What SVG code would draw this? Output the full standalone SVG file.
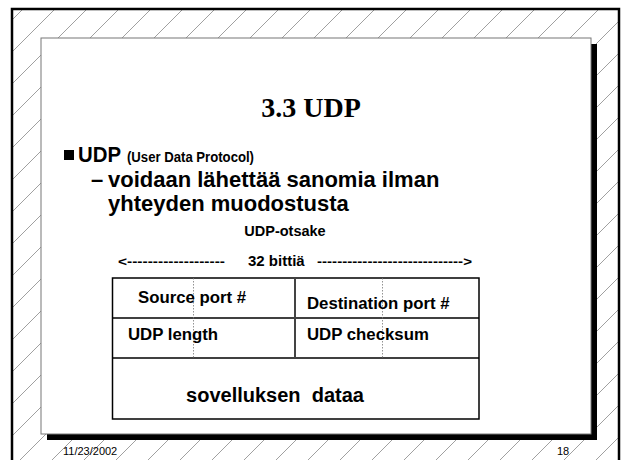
<svg xmlns="http://www.w3.org/2000/svg" width="624" height="460" viewBox="0 0 624 460">
<defs>
<pattern id="hatch" x="0" y="0" width="32" height="32" patternUnits="userSpaceOnUse">
<line x1="0" y1="32" x2="32" y2="0" stroke="#888" stroke-width="0.8"/>
</pattern>
<style>
.s{font-family:"Liberation Sans",Arial,sans-serif;font-weight:bold;fill:#000}
.r{font-family:"Liberation Sans",Arial,sans-serif;fill:#000;font-size:11px}
.c{font-size:16.8px}
.cell{fill:none;stroke:#000;stroke-width:1.5}
.dot{stroke:#777;stroke-width:0.8;stroke-dasharray:1.5,1.5}
</style>
</defs>
<rect x="0" y="0" width="624" height="460" fill="#fff"/>
<g id="frame">
<rect x="12" y="9" width="607" height="470" fill="url(#hatch)" stroke="#000" stroke-width="2.5"/>
</g>
<g id="panel">
<rect x="47" y="44" width="550" height="396" fill="#000"/>
<rect x="41" y="38" width="550" height="396" fill="#fff" stroke="#777" stroke-width="1"/>
</g>
<g id="title">
<text x="311" y="117" text-anchor="middle" font-family="'Liberation Serif','Times New Roman',serif" font-weight="bold" font-size="28">3.3 UDP</text>
</g>
<g id="bullets">
<rect x="64" y="150" width="10" height="10" fill="#000"/>
<text class="s" x="78" y="162" font-size="22" textLength="43" lengthAdjust="spacingAndGlyphs">UDP</text>
<text class="s" x="127" y="162" font-size="14.5" textLength="127" lengthAdjust="spacingAndGlyphs">(User Data Protocol)</text>
<text class="s" x="91" y="187" font-size="22">–<tspan x="108">voidaan lähettää sanomia ilman</tspan></text>
<text class="s" x="108" y="211" font-size="22">yhteyden muodostusta</text>
</g>
<g id="header-label">
<text class="s" x="285" y="236" font-size="14.5" text-anchor="middle">UDP-otsake</text>
<text class="s" x="118" y="266" font-size="12" textLength="107" lengthAdjust="spacingAndGlyphs">&lt;-------------------</text>
<text class="s" x="248" y="266" font-size="15">32 bittiä</text>
<text class="s" x="317" y="266" font-size="12" textLength="155" lengthAdjust="spacingAndGlyphs">-----------------------------&gt;</text>
</g>
<g id="table">
<rect class="cell" x="112.5" y="278" width="366.5" height="141"/>
<line class="cell" x1="112.5" y1="318" x2="479" y2="318"/>
<line class="cell" x1="112.5" y1="358" x2="479" y2="358"/>
<line x1="295" y1="278" x2="295" y2="358" stroke="#444" stroke-width="2"/>
<line class="dot" x1="193.5" y1="278" x2="193.5" y2="358"/>
<line class="dot" x1="382.5" y1="278" x2="382.5" y2="358"/>
</g>
<g id="cells">
<text class="s c" x="138" y="303">Source port #</text>
<text class="s c" x="307" y="309">Destination port #</text>
<text class="s c" x="128" y="340">UDP length</text>
<text class="s c" x="307" y="340">UDP checksum</text>
<text class="s" x="275" y="402" font-size="20" text-anchor="middle" xml:space="preserve">sovelluksen  dataa</text>
</g>
<g id="footer">
<text class="r" x="63" y="455">11/23/2002</text>
<text class="r" x="557" y="455">18</text>
</g>
</svg>
